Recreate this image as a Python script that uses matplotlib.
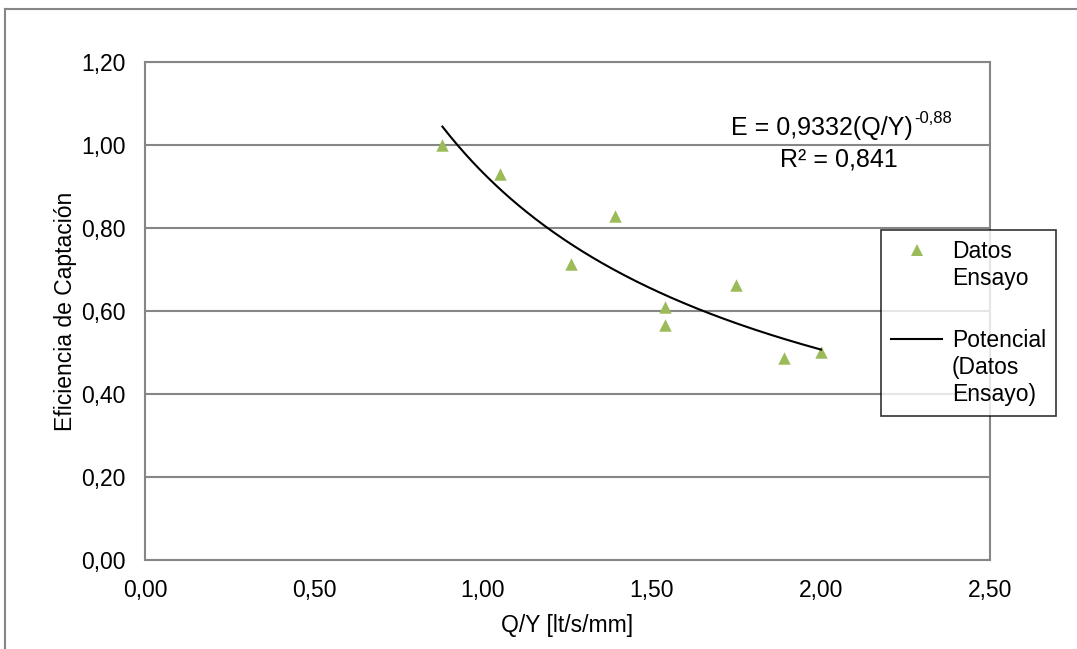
import numpy as np
import matplotlib.pyplot as plt
from matplotlib.lines import Line2D
from matplotlib.ticker import FuncFormatter

plt.rcParams['font.family'] = ['Liberation Sans', 'DejaVu Sans']

# measured data (Q/Y, captation efficiency)
q_y = [0.88, 1.05, 1.26, 1.39, 1.54, 1.54, 1.75, 1.89, 2.00]
eficiencia = [1.00, 0.93, 0.713, 0.829, 0.610, 0.566, 0.663, 0.487, 0.501]

# power trend line E = a * x^b
coef_a = 0.9332
coef_b = -0.88

x_ticks = [0.0, 0.5, 1.0, 1.5, 2.0, 2.5]
y_ticks = [0.0, 0.2, 0.4, 0.6, 0.8, 1.0, 1.2]

grey = '#868686'
green = '#9BBB59'
fs = 16.5

fig = plt.figure(figsize=(10.77, 6.49), dpi=100)
ax = fig.add_axes([0.1346, 0.1371, 0.7846, 0.7674])

# outer chart frame (only left/top visible in the picture)
fig.add_artist(Line2D([0.0046, 0.0046], [0.0, 0.986], transform=fig.transFigure,
                      color=grey, linewidth=1.5))
fig.add_artist(Line2D([0.0046, 1.0], [0.986, 0.986], transform=fig.transFigure,
                      color=grey, linewidth=1.5))

ax.scatter(q_y, eficiencia, marker='^', s=80, color=green, zorder=3, linewidths=0)

x_fit = np.linspace(min(q_y), max(q_y), 200)
ax.plot(x_fit, coef_a * x_fit ** coef_b, color='black', linewidth=1.5, zorder=4)

ax.set_xlim(0, 2.5)
ax.set_ylim(0, 1.2)
ax.set_xticks(x_ticks)
ax.set_yticks(y_ticks)
fmt = FuncFormatter(lambda v, pos: f'{v:.2f}'.replace('.', ','))
ax.xaxis.set_major_formatter(fmt)
ax.yaxis.set_major_formatter(fmt)
ax.tick_params(labelsize=fs, length=0)
ax.tick_params(axis='y', pad=14)
ax.tick_params(axis='x', pad=14)
ax.grid(axis='y', color=grey, linewidth=1.5)
ax.set_axisbelow(True)
for side in ax.spines.values():
    side.set_color(grey)
    side.set_linewidth(1.5)

ax.set_xlabel('Q/Y [lt/s/mm]', fontsize=fs, labelpad=8)
ax.set_ylabel('Eficiencia de Captación', fontsize=fs, labelpad=3)

# trend line equation, superscript drawn as its own text
ax.text(2.272, 1.041, 'E = 0,9332(Q/Y)', fontsize=18, ha='right', va='center')
ax.text(2.276, 1.064, '-0,88', fontsize=12, ha='left', va='center')
ax.text(2.053, 0.964, 'R² = 0,841', fontsize=18, ha='center', va='center')

blank = Line2D([], [], linestyle='none')
handles = [
    Line2D([], [], marker='^', linestyle='none', color=green, markersize=9, markeredgewidth=0),
    blank, blank,
    Line2D([], [], color='black', linewidth=1.5),
    blank, blank,
]
labels = ['Datos', 'Ensayo', ' ', 'Potencial', '(Datos', 'Ensayo)']
leg = fig.legend(handles, labels, loc='upper left', bbox_to_anchor=(0.818, 0.6456),
                 fontsize=fs, frameon=True, fancybox=False, edgecolor='black',
                 borderaxespad=0, labelspacing=0.18, handlelength=2.2,
                 handletextpad=0.45, borderpad=0.45)
leg.get_frame().set_linewidth(1.2)
leg.get_texts()[2].set_fontsize(fs * 1.38)

fig.savefig('out.png', dpi=100)
